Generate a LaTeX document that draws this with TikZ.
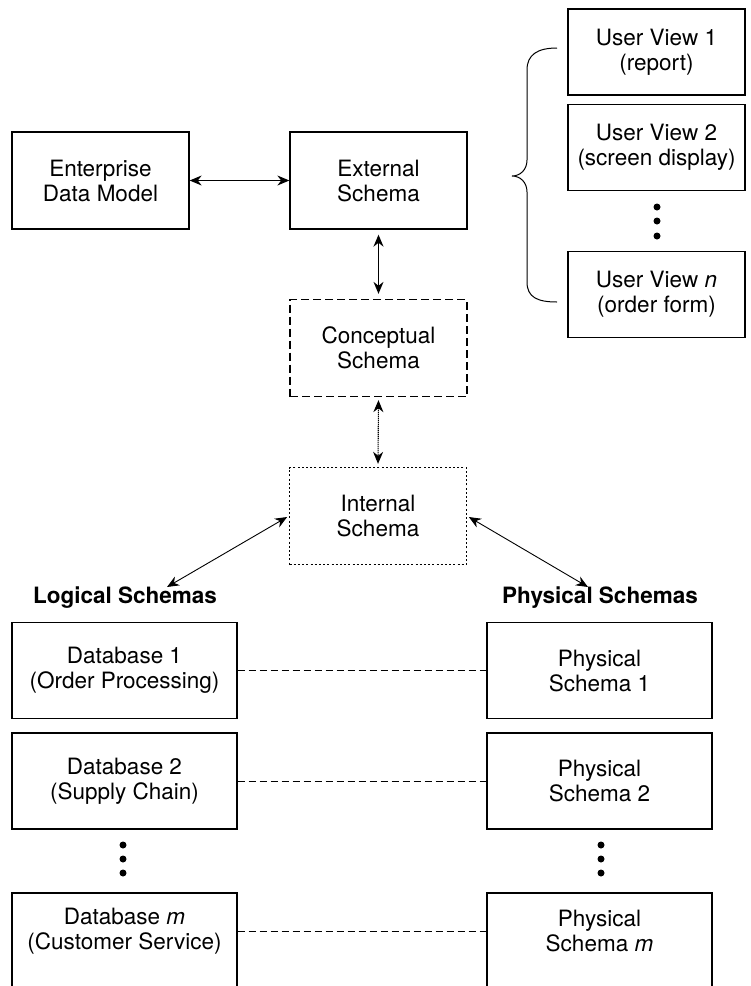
\documentclass[tikz,border=0pt]{standalone}
\usepackage{fontspec}
\setmainfont{TeX Gyre Heros}
\usetikzlibrary{arrows.meta}
\begin{document}
\begin{tikzpicture}[x=1pt,y=-1pt,
  box/.style={draw, line width=1.3pt, align=center, inner sep=0pt,
    font=\fontsize{22.5}{25}\selectfont},
  topbox/.style={box, minimum width=177pt, minimum height=97pt},
  viewbox/.style={box, minimum width=177pt, minimum height=86pt},
  dbbox/.style={box, minimum width=225pt, minimum height=96pt},
  heading/.style={font=\fontsize{22.5}{25}\selectfont\bfseries, inner sep=0pt},
  biarrow/.style={{Stealth[length=12pt,width=10pt]}-{Stealth[length=12pt,width=10pt]}, line width=1.1pt},
  fineline/.style={dash pattern=on 1.2pt off 0.8pt},
  dashline/.style={line width=0.9pt, dash pattern=on 7pt off 4pt},
  dotmark/.style={fill=black, circle, inner sep=0pt, minimum size=7pt}
]
\useasboundingbox (0,0) rectangle (751,986);
\clip (0,0) rectangle (751,986);

% top row
\node[topbox] (edm) at (100.5,180.5) {Enterprise\\Data Model};
\node[topbox] (ext) at (378.5,180.5) {External\\Schema};
\node[topbox, dash pattern=on 8pt off 4pt] (con) at (378.5,348) {Conceptual\\Schema};
\node[topbox, dash pattern=on 2pt off 2.2pt] (int) at (378,516) {Internal\\Schema};

% user views
\node[viewbox] (uv1) at (656.5,52) {User View 1\\(report)};
\node[viewbox] (uv2) at (656.5,147.5) {User View 2\\(screen display)};
\node[viewbox] (uvn) at (656.5,294.5) {User View \textit{n}\\(order form)};
\node[dotmark] (uvd1) at (657,207) {};
\node[dotmark] (uvd2) at (657,221) {};
\node[dotmark] (uvd3) at (657,236) {};

% brace
\draw[line width=1pt] (557,48) .. controls (537,48) and (527,55) .. (527,70)
  -- (527,160) .. controls (527,170) and (520,176) .. (512,176)
  .. controls (520,176) and (527,182) .. (527,192)
  -- (527,282) .. controls (527,297) and (537,302) .. (557,302);

% headings
\node[heading] (logl) at (125,598) {Logical Schemas};
\node[heading] (phyl) at (600,598) {Physical Schemas};
\coordinate (la) at (167,587);
\coordinate (pa) at (588,587);

% schema boxes
\node[dbbox] (db1) at (124.5,670.5) {Database 1\\(Order Processing)};
\node[dbbox] (ps1) at (599.5,670.5) {Physical\\Schema 1};
\node[dbbox] (db2) at (124.5,781) {Database 2\\(Supply Chain)};
\node[dbbox] (ps2) at (599.5,781) {Physical\\Schema 2};
\node[dbbox, minimum height=97pt,
  label={[name=dbmtext, align=center, font=\fontsize{22.5}{25}\selectfont, yshift=10.5pt]center:Database \textit{m}\\(Customer Service)}]
  (dbm) at (124.5,941.5) {};
\node[dbbox, minimum height=97pt,
  label={[name=psmtext, align=center, font=\fontsize{22.5}{25}\selectfont, yshift=10.5pt]center:Physical\\Schema \textit{m}}]
  (psm) at (599.5,941.5) {};

\node[dotmark] (ld1) at (123,845) {};
\node[dotmark] (ld2) at (123,859) {};
\node[dotmark] (ld3) at (123,873) {};
\node[dotmark] (pd1) at (601,845) {};
\node[dotmark] (pd2) at (601,859) {};
\node[dotmark] (pd3) at (601,873) {};

% connectors
\draw[biarrow, fineline] (edm.east) -- (ext.west);
\draw[biarrow, line width=1.3pt, shorten <=5pt, shorten >=5pt] (ext.south) -- (con.north);
\draw[biarrow, fineline, shorten <=3pt, shorten >=3pt] (con.south) -- (int.north);
\draw[biarrow, line width=0.9pt, shorten <=2pt] (int.west) -- (la);
\draw[biarrow, line width=0.9pt, shorten <=2pt] (int.east) -- (pa);

\draw[dashline] (db1.east) -- (ps1.west);
\draw[dashline] (db2.east) -- (ps2.west);
\draw[dashline] ([yshift=10.5pt]dbm.east) -- ([yshift=10.5pt]psm.west);
\end{tikzpicture}
\end{document}
